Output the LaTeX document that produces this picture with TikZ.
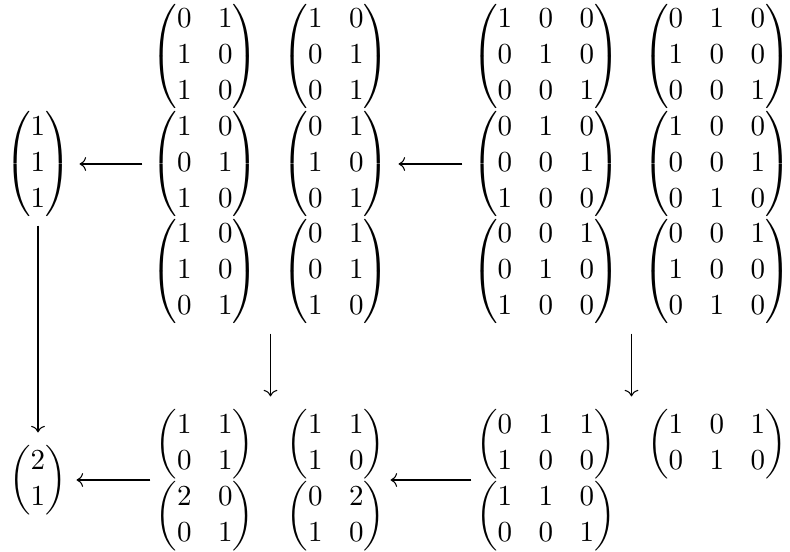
\documentclass[tikz,border=0pt]{standalone}
\usepackage{amsmath}
\usetikzlibrary{arrows.meta,fit}
\begin{document}
\begin{tikzpicture}[x=0.3774pt,y=-0.3774pt,
  mat/.style={inner sep=0pt, font={\fontsize{10.95}{13.6}\selectfont}},
  cell/.style={inner sep=0pt, draw=none},
  arr/.style={-{Computer Modern Rightarrow}, line width=0.4pt}]
\useasboundingbox (0,0) rectangle (790,552);
% left vectors
\node[mat] (m111) at (38,164) {$\begin{pmatrix}1\\1\\1\end{pmatrix}$};
\node[mat] (m21) at (38,480) {$\begin{pmatrix}2\\1\end{pmatrix}$};
% stack A
\node[mat] (a11) at (205,56.5) {$\begin{pmatrix}0&1\\1&0\\1&0\end{pmatrix}$};
\node[mat] (a12) at (336,56.5) {$\begin{pmatrix}1&0\\0&1\\0&1\end{pmatrix}$};
\node[mat] (a21) at (205,164) {$\begin{pmatrix}1&0\\0&1\\1&0\end{pmatrix}$};
\node[mat] (a22) at (336,164) {$\begin{pmatrix}0&1\\1&0\\0&1\end{pmatrix}$};
\node[mat] (a31) at (205,271.5) {$\begin{pmatrix}1&0\\1&0\\0&1\end{pmatrix}$};
\node[mat] (a32) at (336,271.5) {$\begin{pmatrix}0&1\\0&1\\1&0\end{pmatrix}$};
% stack B
\node[mat] (b11) at (546,56.5) {$\begin{pmatrix}1&0&0\\0&1&0\\0&0&1\end{pmatrix}$};
\node[mat] (b12) at (717,56.5) {$\begin{pmatrix}0&1&0\\1&0&0\\0&0&1\end{pmatrix}$};
\node[mat] (b21) at (546,164) {$\begin{pmatrix}0&1&0\\0&0&1\\1&0&0\end{pmatrix}$};
\node[mat] (b22) at (717,164) {$\begin{pmatrix}1&0&0\\0&0&1\\0&1&0\end{pmatrix}$};
\node[mat] (b31) at (546,271.5) {$\begin{pmatrix}0&0&1\\0&1&0\\1&0&0\end{pmatrix}$};
\node[mat] (b32) at (717,271.5) {$\begin{pmatrix}0&0&1\\1&0&0\\0&1&0\end{pmatrix}$};
% stack C
\node[mat] (c11) at (205,444) {$\begin{pmatrix}1&1\\0&1\end{pmatrix}$};
\node[mat] (c12) at (336,444) {$\begin{pmatrix}1&1\\1&0\end{pmatrix}$};
\node[mat] (c21) at (205,516) {$\begin{pmatrix}2&0\\0&1\end{pmatrix}$};
\node[mat] (c22) at (336,516) {$\begin{pmatrix}0&2\\1&0\end{pmatrix}$};
% stack D
\node[mat] (d11) at (546,444) {$\begin{pmatrix}0&1&1\\1&0&0\end{pmatrix}$};
\node[mat] (d12) at (717,444) {$\begin{pmatrix}1&0&1\\0&1&0\end{pmatrix}$};
\node[mat] (d21) at (546,516) {$\begin{pmatrix}1&1&0\\0&0&1\end{pmatrix}$};
% cells (invisible frames used as connector ends)
\node[cell, fit={(-3,103) (79,225)}] (V1) {};
\node[cell, fit={(0,433) (76,527)}] (V2) {};
\node[cell, fit={(143,-5) (398,333)}] (A) {};
\node[cell, fit={(463,-5) (800,333)}] (B) {};
\node[cell, fit={(151,397) (390,563)}] (C) {};
\node[cell, fit={(472,397) (791,563)}] (D) {};
% connectors
\draw[arr] (A.west) -- (V1.east);
\draw[arr] (B.west) -- (A.east);
\draw[arr] (V1.south) -- (V2.north);
\draw[arr] (A.south) -- (C.north);
\draw[arr] (B.south) -- (D.north);
\draw[arr] (C.west) -- (V2.east);
\draw[arr] (D.west) -- (C.east);
\end{tikzpicture}
\end{document}
